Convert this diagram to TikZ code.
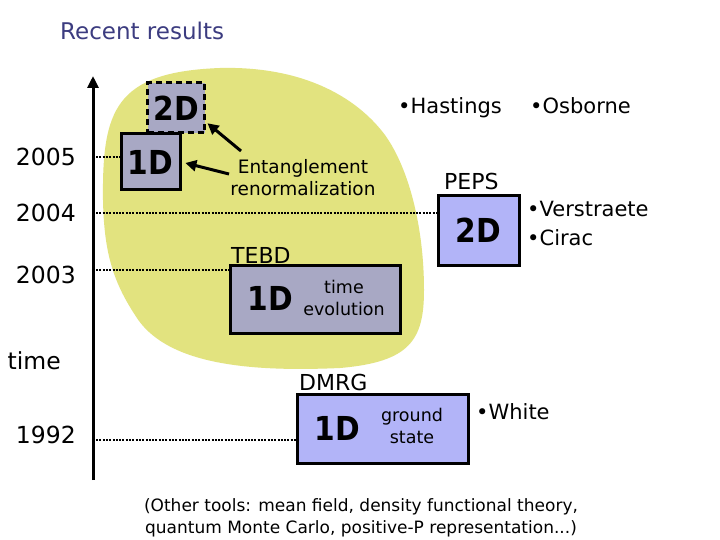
\documentclass[tikz,border=0pt]{standalone}
\usepackage{fontspec}
\setmainfont{DejaVu Sans}
\newfontfamily\bigfont{DejaVu Sans Condensed}
\usetikzlibrary{arrows.meta}
\definecolor{blobyellow}{HTML}{E2E37F}
\definecolor{boxgray}{HTML}{A8A8C4}
\definecolor{boxlav}{HTML}{B2B4F8}
\definecolor{titleblue}{HTML}{3C3C80}
\tikzset{
  yearlabel/.style={font=\fontsize{23.5}{25}\selectfont, anchor=east, inner sep=0pt},
  dotline/.style={line width=2.6pt, dash pattern=on 2pt off 1.3pt},
  grayblock/.style={draw=black, line width=3pt, fill=boxgray},
  lavblock/.style={draw=black, line width=3pt, fill=boxlav},
  bigtext/.style={font=\bigfont\fontsize{33}{35}\selectfont\bfseries, inner sep=0pt},
  smalltext/.style={font=\fontsize{17.5}{20}\selectfont, inner sep=0pt, align=center},
  methodlabel/.style={font=\fontsize{22}{24}\selectfont, anchor=base west, inner sep=0pt},
  namelabel/.style={font=\fontsize{21}{23}\selectfont, anchor=base west, inner sep=0pt},
  pointer/.style={line width=3pt, -{Triangle[length=11pt,width=11pt]}}
}
\begin{document}
\begin{tikzpicture}[x=1pt,y=-1pt]
\useasboundingbox (0,0) rectangle (720,540);
\fill[white] (0,0) rectangle (720,540);

% title
\node[font=\fontsize{23}{25}\selectfont, text=titleblue, anchor=base west, inner sep=0pt] (title) at (60,40) {Recent results};

% yellow blob
\fill[blobyellow] (103,200) .. controls (102,110) and (115,72) .. (220,68)
  .. controls (300,66) and (355,95) .. (385,135)
  .. controls (410,170) and (424,230) .. (424,290)
  .. controls (424,340) and (410,362) .. (340,368)
  .. controls (250,372) and (165,365) .. (135,315)
  .. controls (112,280) and (104,250) .. (103,200) -- cycle;

% time axis
\coordinate (axbot) at (93,480);
\coordinate (axtop) at (93,76);
\draw[line width=3pt, -{Triangle[length=12pt,width=11pt]}] (axbot) -- (axtop);

% year labels
\node[yearlabel] (y2005) at (76,157) {2005};
\node[yearlabel] (y2004) at (76,213) {2004};
\node[yearlabel] (y2003) at (76,275) {2003};
\node[yearlabel] (ytime) at (61,361) {time};
\node[yearlabel] (y1992) at (76,435) {1992};

% boxes
\node[grayblock, dashed, dash pattern=on 6pt off 4pt, minimum width=57pt, minimum height=50pt, inner sep=0pt] (box2Dd) at (176,108) {};
\node[bigtext] at (box2Dd.center) {2D};
\node[grayblock, minimum width=59pt, minimum height=56pt, inner sep=0pt] (box1Da) at (150.5,162) {};
\node[bigtext] at (box1Da.center) {1D};

\node[grayblock, minimum width=170pt, minimum height=68pt, inner sep=0pt] (tebd) at (315,299) {};
\node[bigtext] at (270,298) {1D};
\node[smalltext] at (344,298) {time\\[2pt]evolution};
\node[methodlabel] (tebdlab) at (231,263) {TEBD};

\node[lavblock, minimum width=81pt, minimum height=69pt, inner sep=0pt] (peps) at (478.5,230.5) {};
\node[bigtext] at (peps.center) {2D};
\node[methodlabel] (pepslab) at (444,190) {PEPS};

\node[lavblock, minimum width=171pt, minimum height=69pt, inner sep=0pt] (dmrg) at (382.5,428.5) {};
\node[bigtext] at (337,428) {1D};
\node[smalltext] at (412,426) {ground\\[2pt]state};
\node[methodlabel] (dmrglab) at (299,390) {DMRG};

% dotted year lines
\draw[dotline] (96,157) -- (box1Da.west |- 0,157);
\draw[dotline] (96,213) -- (peps.west |- 0,213);
\draw[dotline] (96,270) -- (tebd.west |- 0,270);
\draw[dotline] (96,440) -- (dmrg.west |- 0,440);

% entanglement renormalization
\node[font=\fontsize{18.5}{21}\selectfont, inner sep=0pt, align=center] (ent) at (303,178) {Entanglement\\[1pt]renormalization};
\coordinate (p1) at (241,151);
\coordinate (p2) at (229,174);
\draw[pointer, shorten >=2pt] (p1) -- ([yshift=-14pt]box2Dd.east);
\draw[pointer, shorten >=4pt] (p2) -- (box1Da.east);

% names
\node[namelabel] (hast) at (398,114) {•Hastings};
\node[namelabel] (osb) at (530,114) {•Osborne};
\node[namelabel] (vers) at (527,216) {•Verstraete};
\node[namelabel] (cirac) at (527,245) {•Cirac};
\node[namelabel] (white) at (476,419) {•White};

% other tools
\node[font=\fontsize{17}{22}\selectfont, align=center, inner sep=0pt] (other) at (361,518) {(Other tools: mean field, density functional theory,\\quantum Monte Carlo, positive-P representation...)};
\end{tikzpicture}
\end{document}
